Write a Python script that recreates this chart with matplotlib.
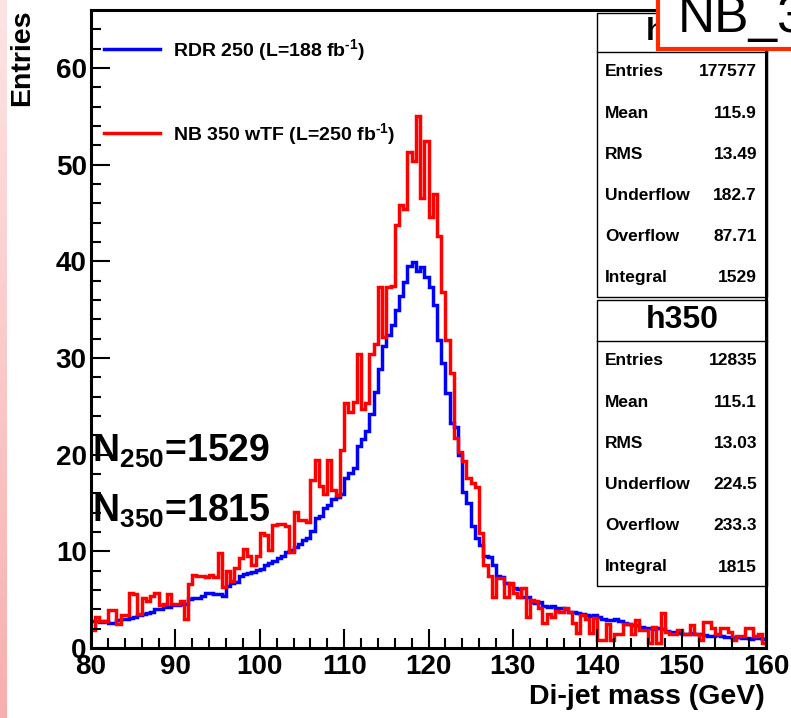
import numpy as np
import matplotlib.pyplot as plt
from matplotlib.patches import Rectangle
from matplotlib.lines import Line2D

W, H = 791, 718

# di-jet mass binning, 0.5 GeV bins from 80 to 160
edges = np.linspace(80, 160, 161)

# RDR 250 (L=188 fb-1), entries per bin
rdr250 = [
    2.8, 2.8, 2.7, 2.8, 2.6, 2.6, 2.9, 3.0, 3.0, 3.1,
    3.2, 3.4, 3.5, 3.6, 3.7, 4.0, 4.0, 4.2, 4.2, 4.4,
    4.4, 4.6, 4.6, 5.1, 5.2, 5.2, 5.4, 5.7, 5.7, 5.6,
    5.6, 5.4, 6.4, 6.7, 6.8, 7.5, 7.7, 7.8, 7.9, 8.1,
    8.2, 8.6, 8.8, 9.0, 9.3, 9.5, 9.9, 10.1, 10.5, 10.8,
    11.2, 11.4, 12.1, 13.4, 13.7, 14.5, 14.8, 15.4, 15.6, 15.9,
    17.6, 18.1, 18.6, 20.9, 21.6, 22.4, 24.2, 26.5, 28.9, 31.2,
    32.4, 33.4, 35.0, 36.4, 37.9, 39.5, 39.9, 39.0, 39.4, 38.4,
    37.3, 35.5, 31.9, 29.5, 26.4, 23.3, 22.9, 20.0, 16.1, 15.0,
    12.6, 11.4, 10.7, 9.5, 9.4, 8.6, 7.4, 7.3, 6.7, 6.6,
    6.2, 6.1, 5.3, 5.3, 4.8, 4.7, 4.8, 4.3, 4.2, 4.3,
    4.1, 4.1, 4.0, 3.7, 3.7, 3.6, 3.5, 3.4, 3.3, 3.4,
    3.2, 3.0, 2.9, 2.9, 3.0, 2.8, 2.6, 2.5, 2.4, 2.4,
    2.2, 2.1, 2.1, 2.0, 2.1, 2.0, 1.8, 1.7, 1.7, 1.6,
    1.5, 1.5, 1.6, 1.4, 1.4, 1.3, 1.2, 1.2, 1.3, 1.2,
    1.1, 1.1, 1.0, 1.1, 1.0, 1.0, 0.9, 1.0, 1.0, 0.9,
]

# NB 350 wTF (L=250 fb-1), entries per bin
nb350 = [
    1.9, 3.2, 2.8, 2.8, 3.9, 3.9, 2.5, 3.4, 3.4, 5.7,
    5.6, 3.5, 5.2, 4.9, 5.4, 5.7, 4.4, 4.6, 5.6, 4.6,
    4.6, 4.9, 3.0, 6.6, 7.6, 7.4, 7.4, 7.3, 7.6, 7.3,
    9.8, 6.3, 8.0, 6.9, 8.3, 9.3, 10.2, 9.5, 8.6, 9.5,
    11.9, 11.7, 10.1, 12.7, 12.8, 12.8, 12.6, 9.9, 14.1, 13.2,
    13.2, 13.0, 17.4, 19.4, 16.8, 15.9, 19.4, 16.3, 15.8, 20.5,
    25.3, 24.4, 25.5, 30.4, 24.7, 25.3, 30.4, 31.5, 37.3, 32.2,
    37.3, 37.5, 43.8, 45.8, 45.4, 51.3, 50.4, 55.0, 46.6, 52.4,
    44.6, 47.0, 42.6, 36.8, 31.9, 28.5, 21.7, 20.3, 19.3, 17.6,
    17.1, 16.7, 11.9, 8.6, 7.4, 5.3, 7.2, 7.2, 5.3, 6.7,
    5.7, 5.3, 6.2, 3.2, 5.0, 4.9, 4.1, 2.6, 3.5, 3.2,
    3.8, 3.7, 4.1, 3.7, 2.6, 1.6, 3.4, 3.0, 1.6, 3.1,
    0.8, 0.8, 2.5, 0.8, 1.5, 1.5, 2.5, 2.5, 1.5, 2.9,
    1.9, 1.9, 0.5, 2.2, 0.5, 3.6, 1.7, 1.5, 1.5, 1.9,
    1.5, 1.5, 2.4, 1.4, 0.8, 2.7, 2.7, 2.1, 1.5, 2.1,
    2.1, 1.7, 0.8, 1.2, 1.2, 2.1, 2.1, 1.2, 1.4, 0.5,
]

legend_labels = [r"RDR 250 (L=188 fb$^{\text{-1}}$)", r"NB 350 wTF (L=250 fb$^{\text{-1}}$)"]
stat_names = ["Entries", "Mean", "RMS", "Underflow", "Overflow", "Integral"]
h250_stats = ["177577", "115.9", "13.49", "182.7", "87.71", "1529"]
h350_stats = ["12835", "115.1", "13.03", "224.5", "233.3", "1815"]

plt.rcParams['font.family'] = 'Liberation Sans'
plt.rcParams['font.weight'] = 'bold'
plt.rcParams['mathtext.fontset'] = 'custom'
plt.rcParams['mathtext.rm'] = 'Liberation Sans:bold'
plt.rcParams['mathtext.it'] = 'Liberation Sans:bold'
plt.rcParams['mathtext.bf'] = 'Liberation Sans:bold'
plt.rcParams['mathtext.default'] = 'bf'


def fx(px):
    return px / W


def fy(py):
    return 1 - py / H


fig = plt.figure(figsize=(W / 100, H / 100), dpi=100)

# pink strip of the slide on the left edge
strip = fig.add_axes([0, 0, fx(7), 1])
grad = np.linspace(0, 1, 256).reshape(-1, 1)
top_c = np.array([253, 228, 228]) / 255
bot_c = np.array([248, 175, 175]) / 255
img = top_c + (bot_c - top_c) * grad[:, :, None]
strip.imshow(img, aspect='auto', extent=[0, 1, 0, 1], origin='upper')
strip.axis('off')

ax = fig.add_axes([fx(91), fy(648), fx(766 - 91), (648 - 10) / H])
ax.stairs(rdr250, edges, baseline=None, color='#0000ff', lw=2.5)
ax.stairs(nb350, edges, baseline=None, color='#ff0000', lw=2.5)

ax.set_xlim(80, 160)
ax.set_ylim(0, 66)
ax.set_xticks(np.arange(80, 161, 10))
ax.set_xticks(np.arange(80, 161, 2), minor=True)
ax.set_yticks(np.arange(0, 61, 10))
ax.set_yticks(np.arange(0, 66, 2), minor=True)
ax.tick_params(which='both', direction='in', width=1.5, labelsize=20)
ax.tick_params(which='major', length=14)
ax.tick_params(which='minor', length=7)
ax.tick_params(axis='x', pad=4)
ax.tick_params(axis='y', pad=3)
for s in ax.spines.values():
    s.set_linewidth(2.2)

handles = [Line2D([], [], color='#0000ff', lw=2.5), Line2D([], [], color='#ff0000', lw=2.5)]
ax.legend(handles, legend_labels, loc='upper left', bbox_to_anchor=(fx(104), fy(37)),
          bbox_transform=fig.transFigure, frameon=False, fontsize=14, borderpad=0,
          borderaxespad=0, handlelength=2.9, handletextpad=0.65, labelspacing=3.0)

fig.text(fx(92), fy(462), r"N$_{250}$=1529", fontsize=27, ha='left', va='baseline')
fig.text(fx(92), fy(522), r"N$_{350}$=1815", fontsize=27, ha='left', va='baseline')

fig.text(fx(22), fy(10), "Entries", fontsize=20.5, rotation=90, ha='center', va='top')
fig.text(fx(765), fy(697), "Di-jet mass (GeV)", fontsize=20.5, ha='right', va='center')


def stats_box(top, sep, bottom, title, values):
    fig.add_artist(Rectangle((fx(597), fy(bottom)), fx(767 - 597), (bottom - top) / H,
                             transform=fig.transFigure, facecolor='white',
                             edgecolor='black', lw=1))
    fig.add_artist(Line2D([fx(597), fx(767)], [fy(sep), fy(sep)],
                          transform=fig.transFigure, color='black', lw=1))
    fig.text(fx(682), fy((top + sep) / 2), title, fontsize=23, ha='center', va='center')
    for i, (name, val) in enumerate(zip(stat_names, values)):
        yy = sep + 20 + i * 41.2
        fig.text(fx(605), fy(yy), name, fontsize=12.5, ha='left', va='center')
        fig.text(fx(757), fy(yy), val, fontsize=12.5, ha='right', va='center')


stats_box(13, 52, 297, "h250", h250_stats)
stats_box(300, 341, 586, "h350", h350_stats)
fig.add_artist(Line2D([fx(766), fx(766)], [fy(10), fy(648)],
                      transform=fig.transFigure, color='black', lw=2.2))

# slide title box overlapping the top-right corner
fig.add_artist(Rectangle((fx(658), fy(49)), fx(150), 60 / H, transform=fig.transFigure,
                         facecolor='white', edgecolor='#ff2a00', lw=3, zorder=5))
fig.text(fx(678), fy(32), "NB_350", fontsize=37, fontweight='normal',
         ha='left', va='baseline', zorder=6)

fig.savefig("out.png", dpi=100)
